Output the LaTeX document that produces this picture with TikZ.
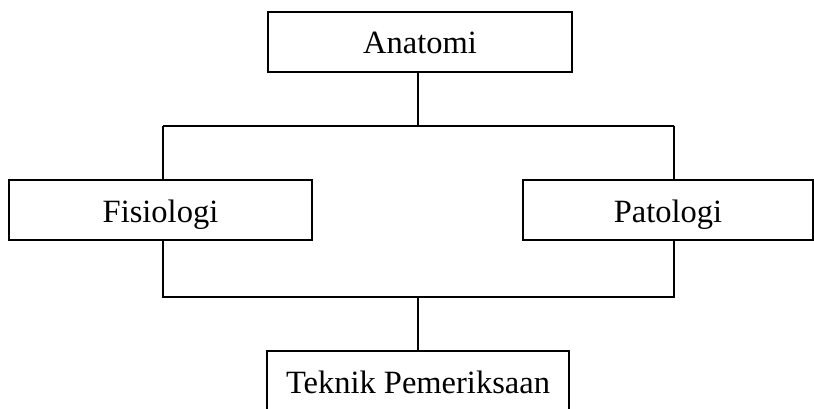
\documentclass[tikz,border=0pt]{standalone}
\usepackage{fontspec}
\setmainfont{Liberation Serif}
\begin{document}
\begin{tikzpicture}[x=1pt,y=-1pt,line width=1.1pt,
  boxnode/.style={draw,inner sep=0pt,minimum height=60pt,text height=26pt,text depth=2pt,font=\fontsize{32.5}{38}\selectfont}]
\clip (0,0) rectangle (814,409);
\fill[white] (0,0) rectangle (814,409);
\node[boxnode,minimum width=304pt] (anat) at (420,42) {Anatomi};
\node[boxnode,minimum width=303pt] (fis) at (160.5,210) {Fisiologi};
\node[boxnode,minimum width=290pt] (pat) at (668,210) {Patologi};
\node[boxnode,minimum width=302pt] (tek) at (418,381) {Teknik Pemeriksaan};
\coordinate (tl) at (163,126);
\coordinate (tr) at (674,126);
\coordinate (bl) at (163,297);
\coordinate (br) at (674,297);
\draw (anat.south -| tek.north) -- (tl -| tek.north);
\draw (tl) -- (tr);
\draw (tl) -- (tl |- fis.north);
\draw (tr) -- (tr |- pat.north);
\draw (bl |- fis.south) -- (bl) -- (br) -- (br |- pat.south);
\draw (bl -| tek.north) -- (tek.north);
\end{tikzpicture}
\end{document}
